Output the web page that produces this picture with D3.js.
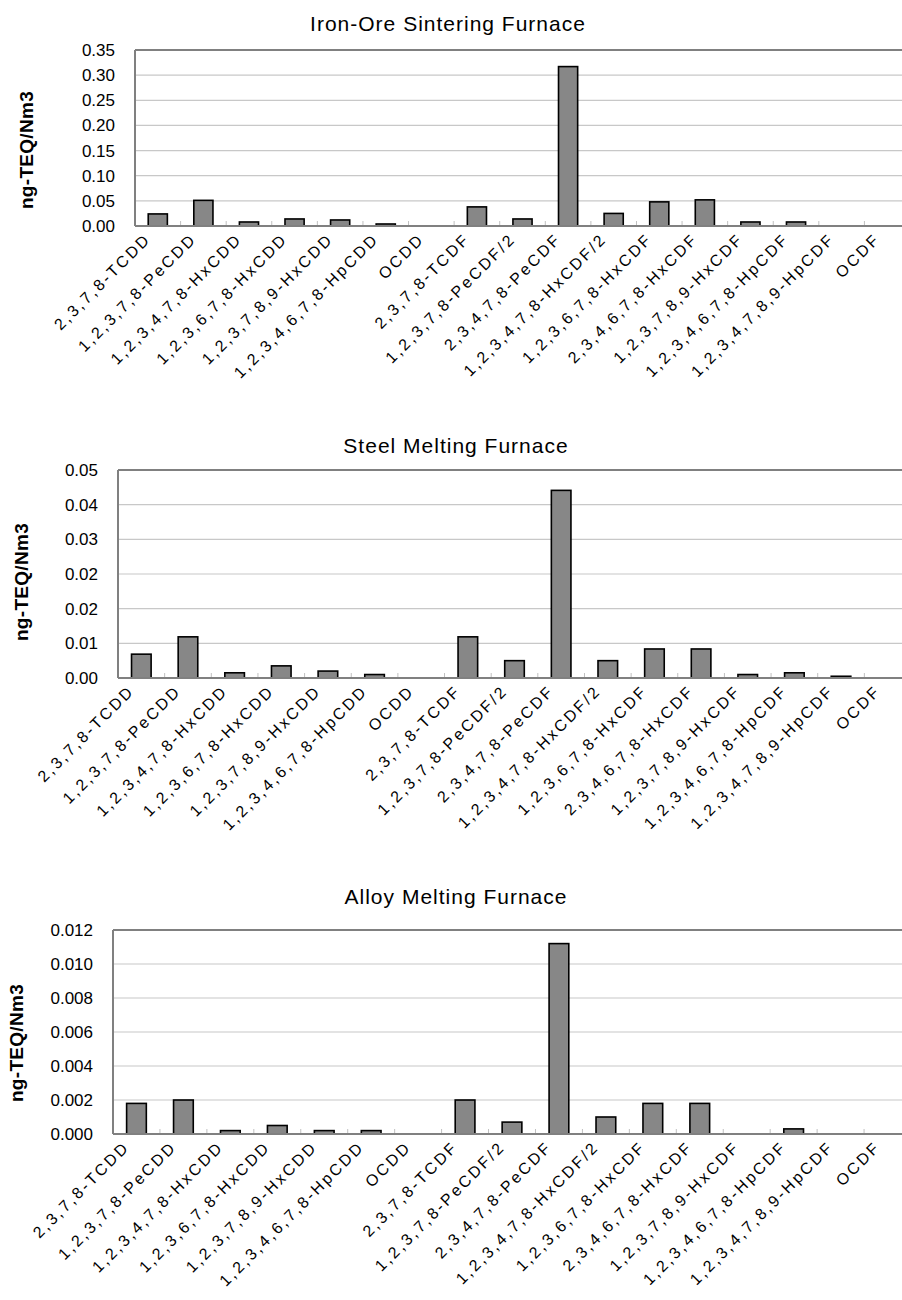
<!DOCTYPE html>
<html>
<head>
<meta charset="utf-8">
<script src="https://cdn.jsdelivr.net/npm/d3@7"></script>
<style>
  html, body { margin: 0; padding: 0; background: #fff; }
  svg { display: block; }
  text { font-family: "Liberation Sans", Arial, sans-serif; fill: #000; }
</style>
</head>
<body>
<svg id="chart" width="902" height="1300"></svg>
<script>
const categories = [
  "2,3,7,8-TCDD", "1,2,3,7,8-PeCDD", "1,2,3,4,7,8-HxCDD", "1,2,3,6,7,8-HxCDD",
  "1,2,3,7,8,9-HxCDD", "1,2,3,4,6,7,8-HpCDD", "OCDD", "2,3,7,8-TCDF",
  "1,2,3,7,8-PeCDF/2", "2,3,4,7,8-PeCDF", "1,2,3,4,7,8-HxCDF/2", "1,2,3,6,7,8-HxCDF",
  "2,3,4,6,7,8-HxCDF", "1,2,3,7,8,9-HxCDF", "1,2,3,4,6,7,8-HpCDF", "1,2,3,4,7,8,9-HpCDF", "OCDF"
];

const ironOreValues = [0.024, 0.051, 0.008, 0.014, 0.012, 0.004, 0, 0.038, 0.014, 0.317, 0.025, 0.048, 0.052, 0.008, 0.008, 0, 0];
const steelValues   = [0.0055, 0.0095, 0.0012, 0.0028, 0.0016, 0.0008, 0, 0.0095, 0.004, 0.0433, 0.004, 0.0067, 0.0067, 0.0008, 0.0012, 0.0004, 0];
const alloyValues   = [0.0018, 0.002, 0.0002, 0.0005, 0.0002, 0.0002, 0, 0.002, 0.0007, 0.0112, 0.001, 0.0018, 0.0018, 0, 0.0003, 0, 0];

const ironOreTicks = [0, 0.05, 0.10, 0.15, 0.20, 0.25, 0.30, 0.35];
const ironOreTickLabels = ["0.00", "0.05", "0.10", "0.15", "0.20", "0.25", "0.30", "0.35"];
const steelTicks = [0, 0.008, 0.016, 0.024, 0.032, 0.040, 0.048];
const steelTickLabels = ["0.00", "0.01", "0.02", "0.02", "0.03", "0.04", "0.05"];
const alloyTicks = [0, 0.002, 0.004, 0.006, 0.008, 0.010, 0.012];
const alloyTickLabels = ["0.000", "0.002", "0.004", "0.006", "0.008", "0.010", "0.012"];

const titles = ["Iron-Ore Sintering Furnace", "Steel Melting Furnace", "Alloy Melting Furnace"];
const yTitle = "ng-TEQ/Nm3";

const panels = [
  { title: titles[0], values: ironOreValues, ticks: ironOreTicks, labels: ironOreTickLabels,
    left: 135, right: 910, top: 50, bottom: 226, titleX: 448, titleY: 25, yTitleX: 28, yTitleY: 150 },
  { title: titles[1], values: steelValues, ticks: steelTicks, labels: steelTickLabels,
    left: 118, right: 911, top: 470, bottom: 678, titleX: 456, titleY: 447, yTitleX: 23, yTitleY: 582 },
  { title: titles[2], values: alloyValues, ticks: alloyTicks, labels: alloyTickLabels,
    left: 113, right: 911, top: 930, bottom: 1134, titleX: 456, titleY: 898, yTitleX: 18, yTitleY: 1043 }
];

const svg = d3.select("#chart");

panels.forEach(p => {
  const g = svg.append("g");
  const x = d3.scaleBand().domain(categories).range([p.left, p.right]).paddingInner(0.58).paddingOuter(0.29);
  const xs = d3.scaleBand().domain(categories).range([p.left, p.right]);
  const y = d3.scaleLinear().domain([0, p.ticks[p.ticks.length - 1]]).range([p.bottom, p.top]);

  g.append("g").selectAll("line").data(p.ticks.slice(1, -1)).join("line")
    .attr("x1", p.left).attr("x2", p.right)
    .attr("y1", d => y(d)).attr("y2", d => y(d))
    .attr("stroke", "#c8c8c8").attr("stroke-width", 1.2);

  g.append("g").selectAll("line").data(categories.slice(1)).join("line")
    .attr("x1", d => xs(d)).attr("x2", d => xs(d))
    .attr("y1", p.bottom).attr("y2", p.bottom - 5)
    .attr("stroke", "#c0c0c0").attr("stroke-width", 1);

  g.append("g").selectAll("rect").data(p.values.map((v, i) => ({ c: categories[i], v })).filter(d => d.v > 0)).join("rect")
    .attr("x", d => x(d.c))
    .attr("width", x.bandwidth())
    .attr("y", d => y(d.v))
    .attr("height", d => p.bottom - y(d.v))
    .attr("fill", "#878787")
    .attr("stroke", "#000").attr("stroke-width", 1.6);

  g.append("line").attr("x1", p.left).attr("x2", p.right).attr("y1", p.top).attr("y2", p.top)
    .attr("stroke", "#808080").attr("stroke-width", 2);
  g.append("line").attr("x1", p.left).attr("x2", p.left).attr("y1", p.top).attr("y2", p.bottom)
    .attr("stroke", "#808080").attr("stroke-width", 2);
  g.append("line").attr("x1", p.left).attr("x2", p.right).attr("y1", p.bottom).attr("y2", p.bottom)
    .attr("stroke", "#808080").attr("stroke-width", 2);

  const yAxis = d3.axisLeft(y).tickValues(p.ticks).tickSize(0).tickPadding(20)
    .tickFormat((d, i) => p.labels[i]);
  const ya = g.append("g").attr("transform", `translate(${p.left},0)`).call(yAxis);
  ya.select(".domain").remove();
  ya.selectAll("text").style("font-size", "17px").style("font-family", "'Liberation Sans', Arial, sans-serif");

  g.append("g").selectAll("text").data(categories).join("text")
    .attr("transform", d => `translate(${xs(d) + xs.bandwidth() / 2 - 9},${p.bottom + 11}) rotate(-45)`)
    .attr("text-anchor", "end")
    .attr("dominant-baseline", "middle")
    .style("font-size", "16px")
    .style("letter-spacing", "2.5px")
    .text(d => d);

  g.append("text").attr("x", p.titleX).attr("y", p.titleY)
    .attr("text-anchor", "middle").attr("dominant-baseline", "middle")
    .style("font-size", "21px").style("letter-spacing", "1px")
    .text(p.title);

  g.append("text")
    .attr("transform", `translate(${p.yTitleX},${p.yTitleY}) rotate(-90)`)
    .attr("text-anchor", "middle").attr("dominant-baseline", "middle")
    .style("font-size", "19px").style("font-weight", "bold").style("letter-spacing", "0.3px")
    .text(yTitle);
});
</script>
</body>
</html>
